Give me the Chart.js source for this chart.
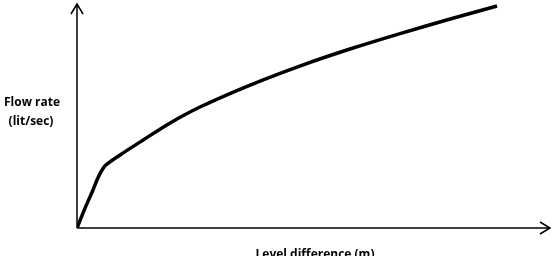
<!DOCTYPE html>
<html>
<head>
<meta charset="utf-8">
<script src="https://cdn.jsdelivr.net/npm/chart.js@4"></script>
<style>
  html, body { margin: 0; padding: 0; background: #fff; }
</style>
</head>
<body>
<canvas id="chart" width="557" height="256"></canvas>
<script>
// curve (arbitrary units, no ticks in the original)
const levelDiff = [0, 0.17, 0.32, 0.47, 0.61, 0.91, 1.40, 1.97, 2.60, 3.66, 4.71, 5.77, 6.83, 7.89, 8.88];
const flowRate  = [0, 0.89, 1.61, 2.36, 2.81, 3.26, 3.93, 4.69, 5.40, 6.38, 7.23, 7.99, 8.68, 9.33, 9.91];

const xTitle = 'Level difference (m)';
const yTitle = ['Flow rate', '(lit/sec)'];

// draws the two arrowed axes and the labels
const axesPlugin = {
    id: 'arrowAxes',
    afterDraw(chart) {
        const ctx = chart.ctx;
        const a = chart.chartArea;
        ctx.save();
        ctx.strokeStyle = '#000';
        ctx.lineWidth = 1.5;
        ctx.beginPath();
        // y axis
        ctx.moveTo(a.left, a.bottom);
        ctx.lineTo(a.left, a.top);
        ctx.moveTo(a.left - 6, a.top + 10);
        ctx.lineTo(a.left, a.top);
        ctx.lineTo(a.left + 6, a.top + 10);
        // x axis
        ctx.moveTo(a.left, a.bottom);
        ctx.lineTo(a.right, a.bottom);
        ctx.moveTo(a.right - 10, a.bottom - 6);
        ctx.lineTo(a.right, a.bottom);
        ctx.lineTo(a.right - 10, a.bottom + 6);
        ctx.stroke();

        ctx.fillStyle = '#000';
        ctx.font = 'bold 12px "Open Sans"';
        ctx.textAlign = 'center';
        ctx.textBaseline = 'middle';
        ctx.fillText(yTitle[0], 32, 103);
        ctx.fillText(yTitle[1], 31, 122);
        ctx.textBaseline = 'alphabetic';
        ctx.fillText(xTitle, 315, 258);
        ctx.restore();
    }
};

new Chart(document.getElementById('chart'), {
    type: 'line',
    data: {
        datasets: [{
            data: levelDiff.map((x, i) => ({ x: x, y: flowRate[i] })),
            borderColor: '#000',
            borderWidth: 3.5,
            pointRadius: 0,
            tension: 0.3,
            fill: false
        }]
    },
    options: {
        responsive: false,
        animation: false,
        layout: { padding: { left: 77, right: 7, top: 4, bottom: 28 } },
        plugins: { legend: { display: false }, tooltip: { enabled: false } },
        scales: {
            x: { type: 'linear', min: 0, max: 10, display: false },
            y: { min: 0, max: 10, display: false }
        }
    },
    plugins: [axesPlugin]
});
</script>
</body>
</html>
